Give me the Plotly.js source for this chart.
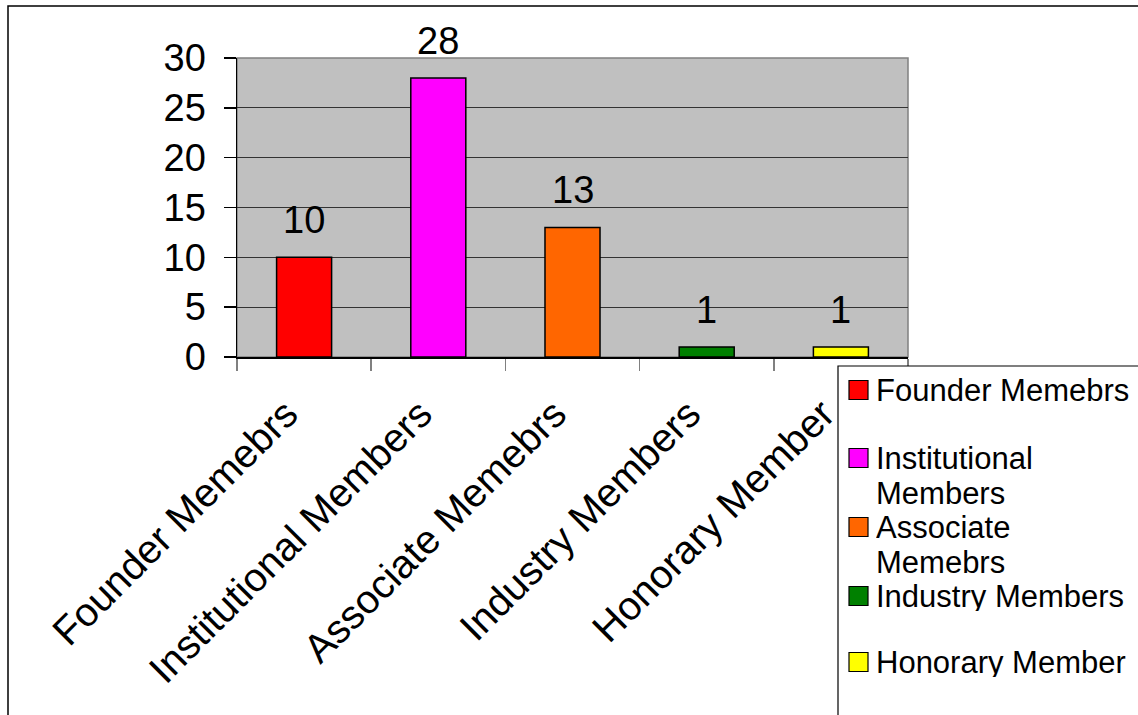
<!DOCTYPE html>
<html>
<head>
<meta charset="utf-8">
<script src="https://cdn.plot.ly/plotly-3.0.1.min.js"></script>
<style>html,body{margin:0;padding:0;background:#fff;}#chart{width:1138px;height:715px;}</style>
</head>
<body>
<div id="chart"></div>
<script>
const categories = ['Founder Memebrs', 'Institutional Members', 'Associate Memebrs', 'Industry Members', 'Honorary Member'];
const values = [10, 28, 13, 1, 1];
const colors = ['#FF0000', '#FF00FF', '#FF6600', '#008000', '#FFFF00'];
const legendLines = [['Founder Memebrs'], ['Institutional', 'Members'], ['Associate', 'Memebrs'], ['Industry Members'], ['Honorary Member']];
const yTicks = [0, 5, 10, 15, 20, 25, 30];

const W = 1138, H = 715;
const L = 237, R = 908, T = 58, B = 357;
const px = x => (x - L) / (R - L);
const py = y => (B - y) / (B - T);
const FONT = 'Liberation Sans, Arial, sans-serif';

const trace = {
  type: 'bar',
  x: categories,
  y: values,
  marker: { color: colors, line: { color: '#000', width: 1.5 } },
  showlegend: false,
  hoverinfo: 'x+y'
};

const annotations = categories.map((c, i) => ({
  x: c, y: values[i], xref: 'x', yref: 'y',
  text: String(values[i]), showarrow: false,
  yanchor: 'bottom', yshift: 14,
  font: { family: FONT, size: 38, color: '#000' }
}));

const shapes = [
  { type: 'rect', xref: 'paper', yref: 'paper', x0: px(8), x1: px(W + 10), y0: py(H + 10), y1: py(6),
    line: { color: '#000', width: 1.5 }, fillcolor: 'rgba(0,0,0,0)', layer: 'below' },
  { type: 'rect', xref: 'paper', yref: 'paper', x0: 0, x1: 1, y0: 0, y1: 1,
    line: { color: '#808080', width: 1.5 }, fillcolor: 'rgba(0,0,0,0)', layer: 'below' },
  { type: 'rect', xref: 'paper', yref: 'paper', x0: px(838), x1: px(W + 10), y0: py(H + 10), y1: py(366),
    line: { color: '#000', width: 1.2 }, fillcolor: '#fff', layer: 'above' }
];

const itemY = [390, 458, 527, 596, 662];
const lineGap = 35;
categories.forEach((c, i) => {
  const cy = itemY[i];
  shapes.push({ type: 'rect', xref: 'paper', yref: 'paper', x0: px(849), x1: px(868), y0: py(cy + 9.5), y1: py(cy - 9.5),
    line: { color: '#000', width: 1.2 }, fillcolor: colors[i], layer: 'above' });
  legendLines[i].forEach((t, j) => {
    annotations.push({ xref: 'paper', yref: 'paper', x: px(875), y: py(cy + j * lineGap), xanchor: 'left', yanchor: 'middle',
      text: t, align: 'left', showarrow: false, height: 30, valign: 'middle', borderpad: 0,
      font: { family: FONT, size: 31, color: '#000' } });
  });
});

const layout = {
  width: W, height: H,
  margin: { l: L, r: W - R, t: T, b: H - B, pad: 0 },
  paper_bgcolor: '#fff',
  plot_bgcolor: '#C0C0C0',
  bargap: 0.59,
  font: { family: FONT, color: '#000' },
  xaxis: {
    type: 'category', tickangle: -45, tickson: 'boundaries',
    ticks: 'outside', ticklen: 12, tickcolor: '#808080', tickwidth: 1.5,
    showline: true, linecolor: '#000', linewidth: 1.5,
    showgrid: false,
    ticklabelstandoff: 16, ticklabelshift: -18,
    tickfont: { family: FONT, size: 40, color: '#000' }
  },
  yaxis: {
    range: [0, 30], tickvals: yTicks, ticktext: yTicks.map(String),
    ticks: 'outside', ticklen: 12, tickcolor: '#000', tickwidth: 1.5,
    showline: true, linecolor: '#000', linewidth: 1.5,
    showgrid: true, gridcolor: '#333', gridwidth: 1,
    zeroline: false,
    ticklabelstandoff: 10,
    tickfont: { family: FONT, size: 38, color: '#000' }
  },
  annotations: annotations,
  shapes: shapes
};

Plotly.newPlot('chart', [trace], layout, { displayModeBar: false, staticPlot: true });
</script>
</body>
</html>
